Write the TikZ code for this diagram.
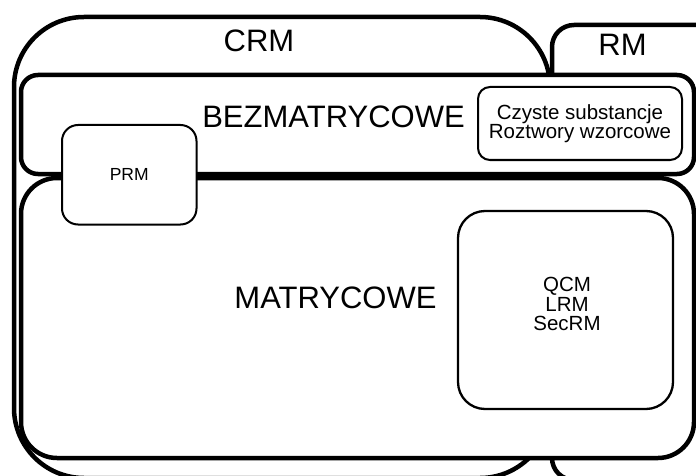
\documentclass[tikz,border=0pt]{standalone}
\usepackage{fontspec}
\setmainfont{Liberation Sans}
\usepackage{tikz}
\usetikzlibrary{positioning}

\begin{document}
\begin{tikzpicture}[x=1pt,y=-1pt,
  group/.style={draw,line width=4.5pt,fill=white,rounded corners=#1,inner sep=0pt,outer sep=0pt},
  item/.style={draw,line width=2pt,fill=white,rounded corners=#1,inner sep=0pt,outer sep=0pt,align=center},
  big/.style={inner sep=0pt,font=\fontsize{31pt}{31pt}\selectfont},
  small/.style={font=\fontsize{20.5pt}{19.5pt}\selectfont}]
\path[use as bounding box,fill=white] (0,0) rectangle (696,476);
\clip (0,0) rectangle (696,476);
% outer groups
\node[group=70pt,minimum width=536pt,minimum height=461pt] (crm) at (282,247.5) {};
\node[group=22pt,minimum width=188pt,minimum height=455pt] (rm) at (646,252.5) {};
% matrix / non-matrix bands
\node[group=17pt,minimum width=673pt,minimum height=99pt] (bez) at (357.5,124.5) {};
\node[group=36pt,minimum width=673pt,minimum height=280pt] (mat) at (357.5,318) {};
% inner boxes
\node[item=16pt,minimum width=134.5pt,minimum height=99.5pt,font=\fontsize{17.5pt}{18pt}\selectfont] (prm) at (129.25,174.75) {PRM};
\node[item=12pt,small,minimum width=204pt,minimum height=73pt] (czyste) at (580,123.5) {Czyste substancje\\Roztwory wzorcowe};
\node[item=27pt,line width=2.3pt,minimum width=215pt,minimum height=198pt] (qcm) at (565.5,310) {};
\node[small,align=center,inner sep=0pt] (qcmtxt) at (567,304) {QCM\\LRM\\SecRM};
% group labels
\node[big] (crmlbl) at (259,41) {CRM};
\node[big] (rmlbl) at (622.5,44.5) {RM};
\node[big] (bezlbl) at (333.5,116.5) {BEZMATRYCOWE};
\node[big] (matlbl) at (335.5,297.5) {MATRYCOWE};
\end{tikzpicture}
\end{document}
